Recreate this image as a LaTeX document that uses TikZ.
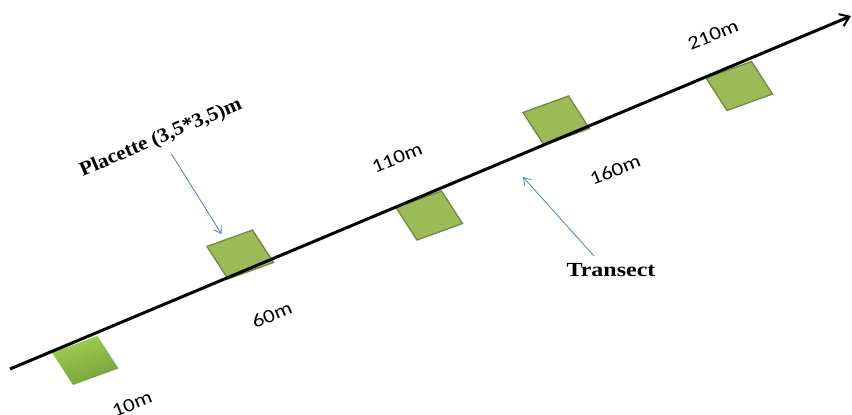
\documentclass[tikz,border=0pt]{standalone}
\usepackage{fontspec}
\setmainfont{Liberation Serif}
\newfontfamily\labelfont{Carlito}
\usetikzlibrary{arrows.meta}
\definecolor{plotgreen}{HTML}{9BBB59}
\definecolor{plotedge}{HTML}{71893F}
\definecolor{plotlight}{HTML}{A2CF52}
\definecolor{plotdark}{HTML}{76A03A}
\definecolor{pointerblue}{HTML}{4F81BD}

\begin{document}
\begin{tikzpicture}[x=1pt,y=-1pt,
  transectline/.style={line width=3pt,
    -{Straight Barb[length=9pt,width=13pt,line width=2pt]}},
  plotbox/.style={fill=plotgreen, draw=plotedge, line width=1.3pt, line join=miter},
  pointer/.style={draw=pointerblue, line width=0.8pt,
    -{Straight Barb[length=7pt,width=9pt,line width=0.8pt]}},
  distlabel/.style={font=\labelfont\fontsize{19}{22}\selectfont, rotate=22, inner sep=0pt},
  caption/.style={font=\bfseries\fontsize{20}{24}\selectfont, inner sep=0pt}]

\useasboundingbox (0,0) rectangle (852,415);

% the transect line ends
\coordinate (start) at (10,369);
\coordinate (end) at (851,16);

% corners of the five plots (top-left corner of each)
\coordinate (p1) at (52,352.5);
\coordinate (p2) at (207,246.5);
\coordinate (p3) at (396,207.5);
\coordinate (p4) at (523,112.5);
\coordinate (p5) at (706,78);

% plots
\shade[top color=plotlight, bottom color=plotdark, shading angle=20]
  (p1) -- ++(45.5,-16.5) -- ++(21,32.5) -- ++(-45.5,16.5) -- cycle;
\foreach \p in {p2,p3,p4,p5}
  \draw[plotbox] (\p) -- ++(45.5,-16.5) -- ++(21,32.5) -- ++(-45.5,16.5) -- cycle;

% transect
\draw[transectline] (start) -- (end);

% distances along the transect
\node[distlabel] (d10)  at (132,404) {\scalebox{1.2}[1]{10m}};
\node[distlabel] (d60)  at (272,315) {\scalebox{1.2}[1]{60m}};
\node[distlabel] (d110) at (397,158) {\scalebox{1.2}[1]{110m}};
\node[distlabel] (d160) at (615,170) {\scalebox{1.2}[1]{160m}};
\node[distlabel] (d210) at (713,35)  {\scalebox{1.2}[1]{210m}};

% captions with their pointers
\node[caption, rotate=23] (placette) at (161,138) {\scalebox{1.07}[1]{Placette (3,5*3,5)m}};
\node[caption] (transect) at (611,270) {\scalebox{1.2}[1]{Transect}};

\coordinate (plotpoint) at (221.5,234);
\coordinate (linepoint) at (523,177);
\coordinate (placettefoot) at (171.5,154);
\coordinate (transecttop) at (594,256);

\draw[pointer] (placettefoot) -- (plotpoint);
\draw[pointer] (transecttop) -- (linepoint);
\end{tikzpicture}
\end{document}
